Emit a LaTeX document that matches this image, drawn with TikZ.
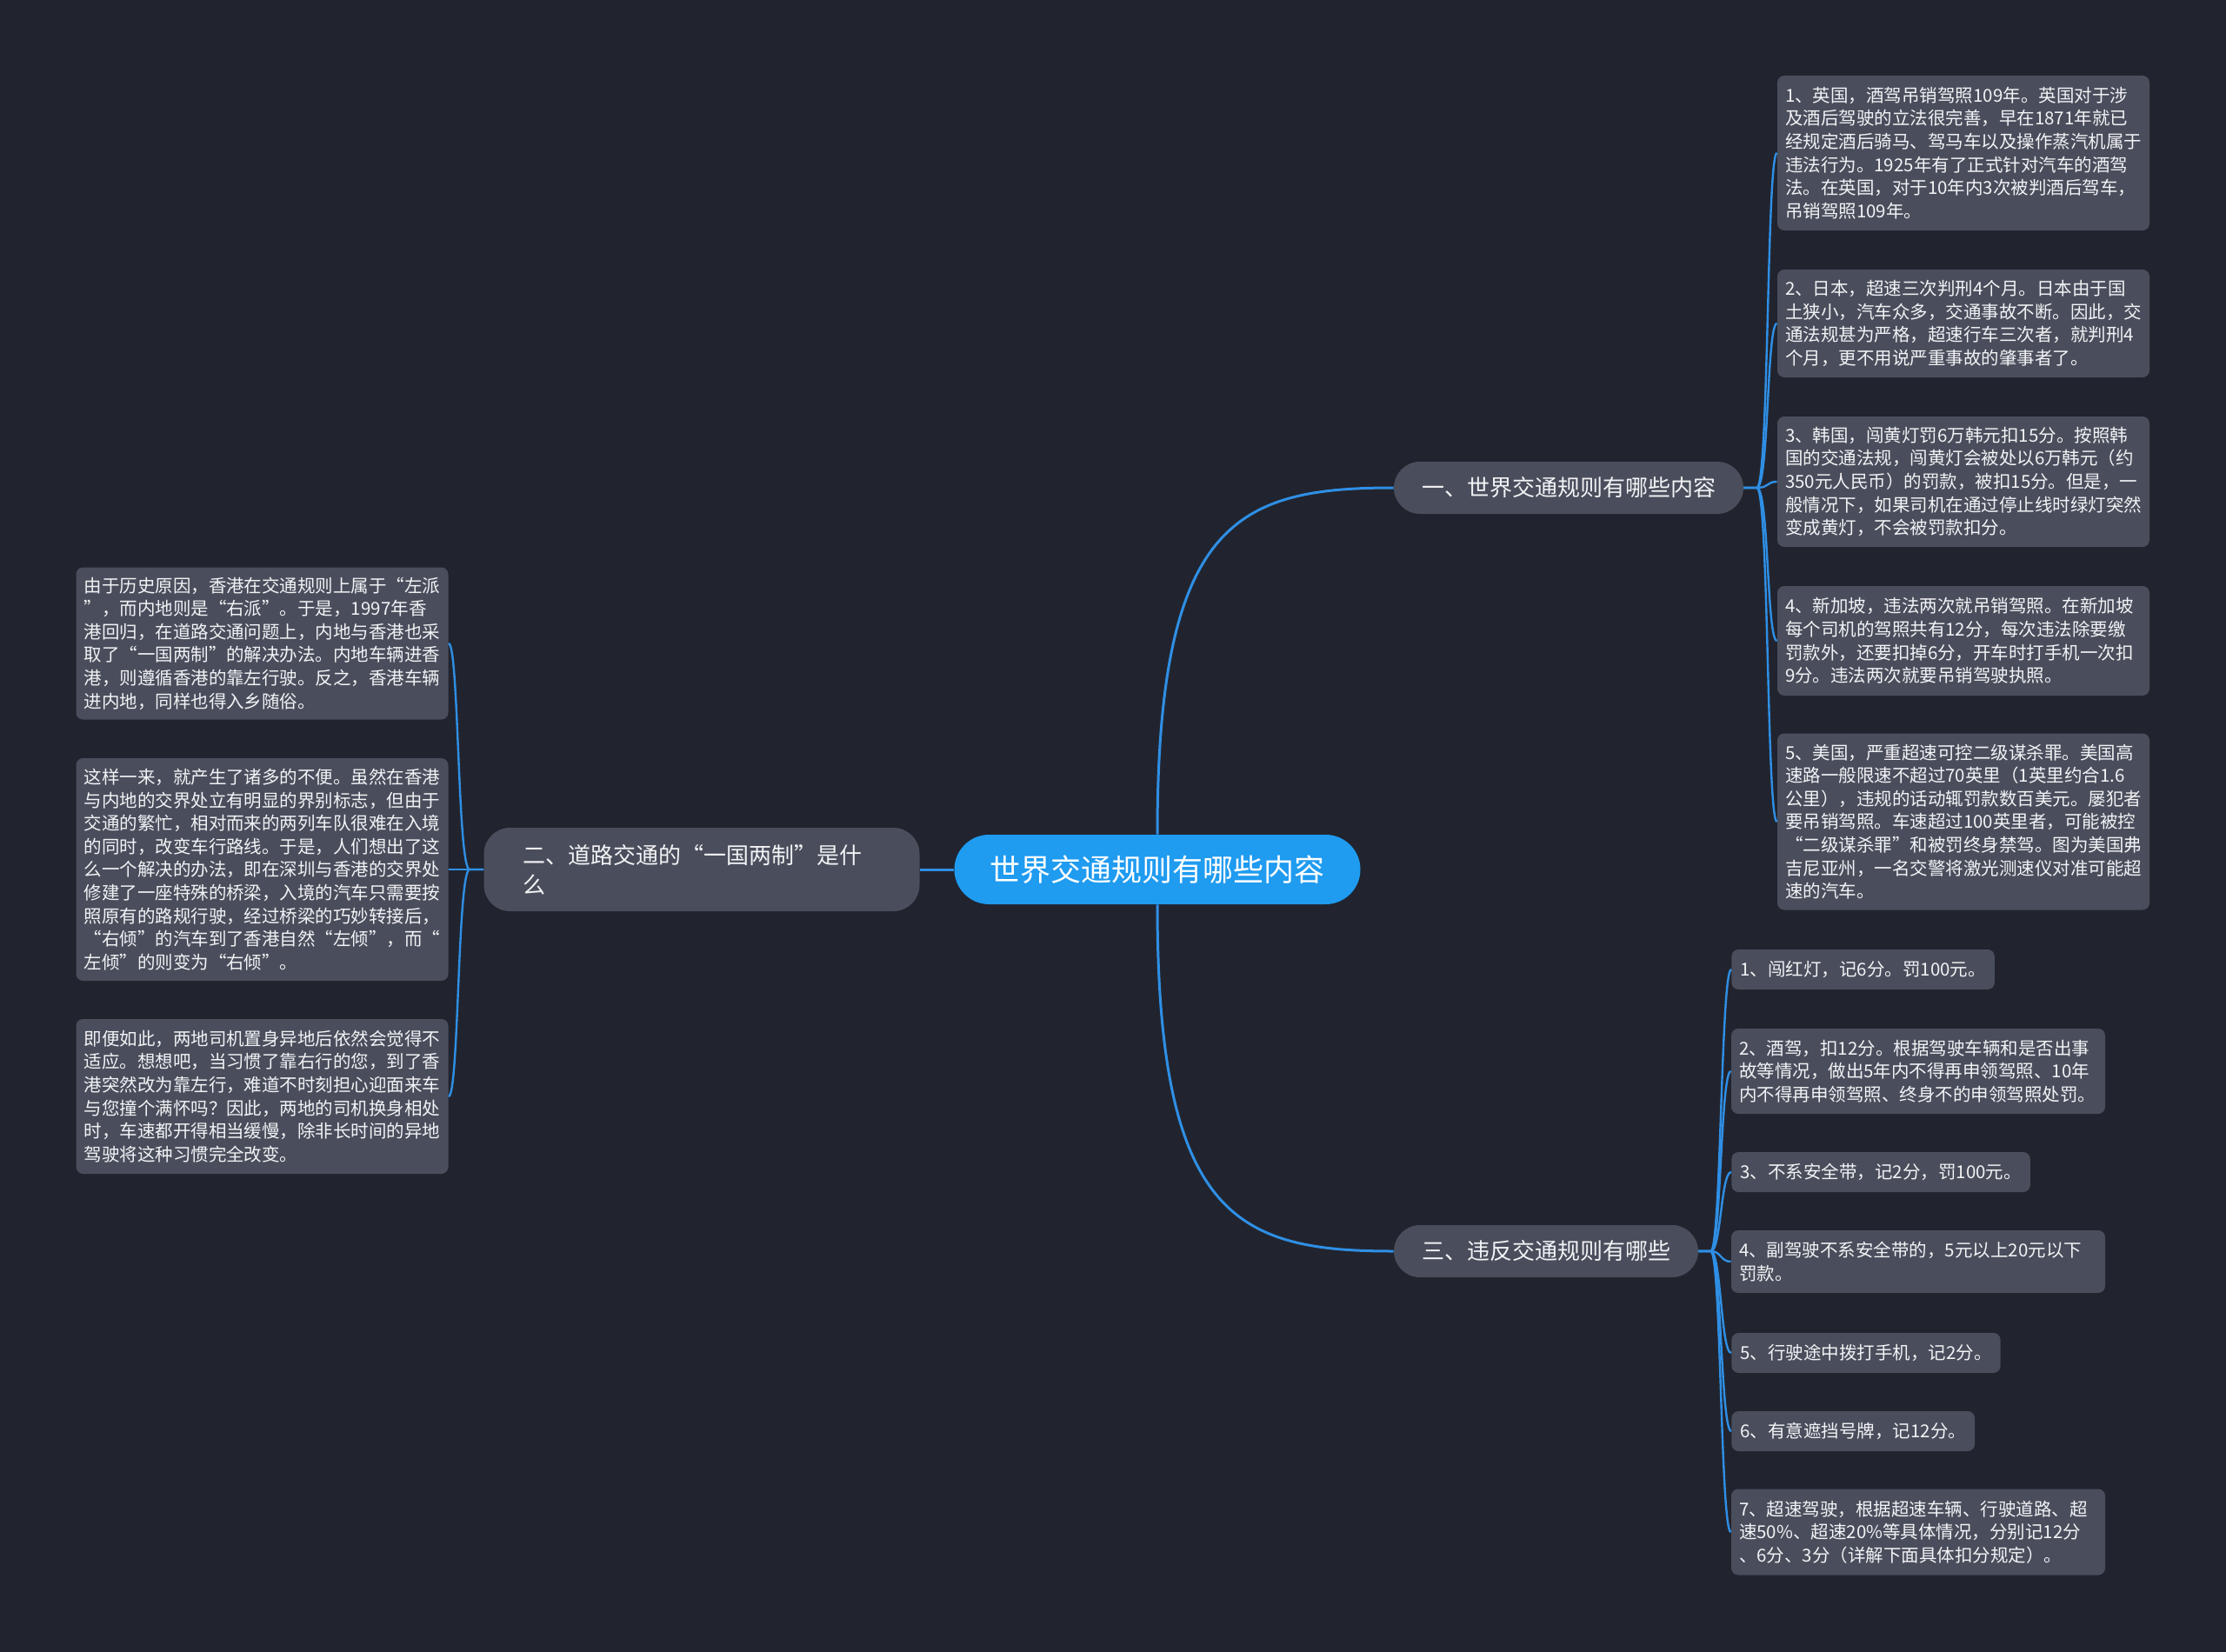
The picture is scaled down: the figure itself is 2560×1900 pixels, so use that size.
\documentclass[tikz,border=0pt]{standalone}
\usepackage{fontspec}
\setmainfont{Noto Sans CJK SC}
\definecolor{canvas}{HTML}{21242E}
\definecolor{card}{HTML}{4A4E5C}
\definecolor{rootblue}{HTML}{1F9BF0}
\definecolor{wire}{HTML}{2F8FE5}
\definecolor{paper}{HTML}{F2F3F5}
\tikzset{
  root/.style={fill=rootblue, rounded corners=20pt, text=white, inner sep=0pt,
    minimum width=233.5pt, minimum height=40pt, font=\fontsize{17.5}{21}\selectfont},
  topic/.style={fill=card, rounded corners=15pt, text=paper, inner sep=0pt,
    minimum height=30pt, align=left, font=\fontsize{13}{17}\selectfont},
  leaf/.style={fill=card, rounded corners=4pt, text=paper, inner xsep=4.5pt, inner ysep=3pt,
    text width=205pt, align=left, font=\fontsize{10.25}{13.3}\selectfont},
  tag/.style={fill=card, rounded corners=4pt, text=paper, inner xsep=5pt, inner ysep=0pt,
    minimum height=23pt, anchor=west, font=\fontsize{10.25}{13.3}\selectfont},
  wire/.style={draw=wire, line width=1.5pt},
  twig/.style={draw=wire, line width=1.2pt}
}
\begin{document}
\begin{tikzpicture}[x=0.5pt,y=-0.5pt]

% ---------- canvas
\fill[canvas] (0,0) rectangle (2560,1900);

% ---------- centre and topics
\node[root] (root) at (1331,1000) {世界交通规则有哪些内容};
\node[topic, minimum width=201pt] (t1) at (1804,561) {一、世界交通规则有哪些内容};
\node[topic, minimum width=250.5pt, minimum height=48pt, text width=205.5pt] (t2) at (807,1000)
  {二、道路交通的“一国两制”是什\\么};
\node[topic, minimum width=175pt] (t3) at (1778,1439) {三、违反交通规则有哪些};

% ---------- 1. countries
\node[leaf, minimum height=89pt] (r1) at (2258,176) {1、英国，酒驾吊销驾照109年。英国对于涉\\
  及酒后驾驶的立法很完善，早在1871年就已\\
  经规定酒后骑马、驾马车以及操作蒸汽机属于\\
  违法行为。1925年有了正式针对汽车的酒驾\\
  法。在英国，对于10年内3次被判酒后驾车，\\
  吊销驾照109年。};
\node[leaf, minimum height=62pt] (r2) at (2258,372) {2、日本，超速三次判刑4个月。日本由于国\\
  土狭小，汽车众多，交通事故不断。因此，交\\
  通法规甚为严格，超速行车三次者，就判刑4\\
  个月，更不用说严重事故的肇事者了。};
\node[leaf, minimum height=75pt] (r3) at (2258,554) {3、韩国，闯黄灯罚6万韩元扣15分。按照韩\\
  国的交通法规，闯黄灯会被处以6万韩元（约\\
  350元人民币）的罚款，被扣15分。但是，一\\
  般情况下，如果司机在通过停止线时绿灯突然\\
  变成黄灯，不会被罚款扣分。};
\node[leaf, minimum height=63pt] (r4) at (2258,737) {4、新加坡，违法两次就吊销驾照。在新加坡\\
  每个司机的驾照共有12分，每次违法除要缴\\
  罚款外，还要扣掉6分，开车时打手机一次扣\\
  9分。违法两次就要吊销驾驶执照。};
\node[leaf, minimum height=101.5pt] (r5) at (2258,945) {5、美国，严重超速可控二级谋杀罪。美国高\\
  速路一般限速不超过70英里（1英里约合1.6\\
  公里），违规的话动辄罚款数百美元。屡犯者\\
  要吊销驾照。车速超过100英里者，可能被控\\
  “二级谋杀罪”和被罚终身禁驾。图为美国弗\\
  吉尼亚州，一名交警将激光测速仪对准可能超\\
  速的汽车。};

% ---------- 2. one country two systems
\node[leaf, minimum height=87.5pt] (l1) at (301.5,740) {由于历史原因，香港在交通规则上属于“左派\\
  ”，而内地则是“右派”。于是，1997年香\\
  港回归，在道路交通问题上，内地与香港也采\\
  取了“一国两制”的解决办法。内地车辆进香\\
  港，则遵循香港的靠左行驶。反之，香港车辆\\
  进内地，同样也得入乡随俗。};
\node[leaf, minimum height=128pt] (l2) at (301.5,1000) {这样一来，就产生了诸多的不便。虽然在香港\\
  与内地的交界处立有明显的界别标志，但由于\\
  交通的繁忙，相对而来的两列车队很难在入境\\
  的同时，改变车行路线。于是，人们想出了这\\
  么一个解决的办法，即在深圳与香港的交界处\\
  修建了一座特殊的桥梁，入境的汽车只需要按\\
  照原有的路规行驶，经过桥梁的巧妙转接后，\\
  “右倾”的汽车到了香港自然“左倾”，而“\\
  左倾”的则变为“右倾”。};
\node[leaf, minimum height=89pt] (l3) at (301.5,1261) {即便如此，两地司机置身异地后依然会觉得不\\
  适应。想想吧，当习惯了靠右行的您，到了香\\
  港突然改为靠左行，难道不时刻担心迎面来车\\
  与您撞个满怀吗？因此，两地的司机换身相处\\
  时，车速都开得相当缓慢，除非长时间的异地\\
  驾驶将这种习惯完全改变。};

% ---------- 3. violations
\node[tag] (b1) at (1991,1115) {1、闯红灯，记6分。罚100元。};
\node[leaf, minimum height=49pt, text width=206pt] (b2) at (2206,1232) {2、酒驾，扣12分。根据驾驶车辆和是否出事\\
  故等情况，做出5年内不得再申领驾照、10年\\
  内不得再申领驾照、终身不的申领驾照处罚。};
\node[tag] (b3) at (1991,1348) {3、不系安全带，记2分，罚100元。};
\node[leaf, minimum height=36pt, text width=206pt] (b4) at (2206,1451) {4、副驾驶不系安全带的，5元以上20元以下\\
  罚款。};
\node[tag] (b5) at (1991,1556) {5、行驶途中拨打手机，记2分。};
\node[tag] (b6) at (1991,1646) {6、有意遮挡号牌，记12分。};
\node[leaf, minimum height=49.5pt, text width=206pt] (b7) at (2206,1762) {7、超速驾驶，根据超速车辆、行驶道路、超\\
  速50\%、超速20\%等具体情况，分别记12分\\
  、6分、3分（详解下面具体扣分规定）。};

% ---------- connectors
\draw[wire] (root.north) .. controls +(0,-360) and +(-180,0) .. (t1.west);
\draw[wire] (root.south) .. controls +(0,360) and +(-180,0) .. (t3.west);
\draw[wire] (root.west) -- (t2.east);
\foreach \n in {r1,r2,r3,r4,r5}
  \draw[twig] (t1.east) -- ++(15,0) .. controls +(14,0) and +(-12,0) .. (\n.west);
\foreach \n in {l1,l2,l3}
  \draw[twig] (t2.west) -- ++(-16,0) .. controls +(-14,0) and +(12,0) .. (\n.east);
\foreach \n in {b1,b2,b3,b4,b5,b6,b7}
  \draw[twig] (t3.east) -- ++(14,0) .. controls +(12,0) and +(-12,0) .. (\n.west);

\end{tikzpicture}
\end{document}
